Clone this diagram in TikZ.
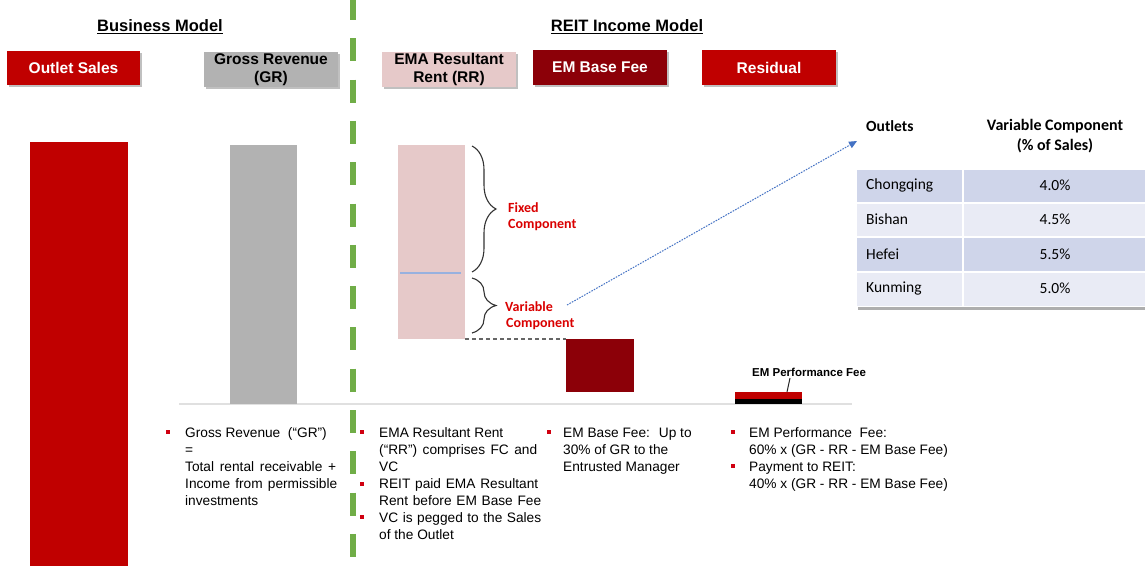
\documentclass[tikz,border=0pt]{standalone}
\usepackage{fontspec}
\setmainfont{Liberation Sans}
\newfontfamily\calfont{Carlito}
\usetikzlibrary{shadows,decorations.pathreplacing,arrows.meta}
\definecolor{osred}{HTML}{C00000}
\definecolor{grgrey}{HTML}{B2B2B2}
\definecolor{rrpink}{HTML}{E6C9C9}
\definecolor{emdark}{HTML}{8C0008}
\definecolor{vgreen}{HTML}{70AD47}
\definecolor{rowA}{HTML}{CFD5EA}
\definecolor{rowB}{HTML}{E9EBF5}
\definecolor{arrblue}{HTML}{4472C4}
\definecolor{lblred}{HTML}{DA0000}
\definecolor{bulred}{HTML}{D00010}
\tikzset{
  hdr/.style={minimum width=134pt, minimum height=35pt, inner sep=0pt, outer sep=0pt,
    font=\fontsize{15.5}{18}\selectfont\bfseries, align=center,
    drop shadow={shadow xshift=2pt, shadow yshift=-2pt, opacity=0.35, fill=black!70}},
  bar/.style={inner sep=0pt, outer sep=0pt, anchor=north west},
  title/.style={font=\fontsize{16.5}{19}\selectfont\bfseries, inner sep=0pt},
  body/.style={anchor=base west, inner sep=0pt, font=\fontsize{13.7}{17}\selectfont},
  bul/.style={fill=bulred, minimum size=3.5pt, inner sep=0pt},
  brc/.style={decorate, decoration={brace, amplitude=24pt}, line width=1.1pt, black!80},
  complbl/.style={anchor=base west, inner sep=0pt, text=lblred, font=\calfont\fontsize{14}{16}\selectfont\bfseries},
  tcell/.style={inner sep=0pt, font=\calfont\fontsize{15.5}{19}\selectfont},
}
\begin{document}
\begin{tikzpicture}[x=1pt,y=-1pt]
\useasboundingbox[fill=white] (0,0) rectangle (1145,567);

% titles
\node[title] (bm) at (160,27) {\underline{Business Model}};
\node[title] (rim) at (627,27) {\underline{REIT Income Model}};

% header boxes
\node[hdr, fill=osred, text=white, anchor=north west, minimum width=133pt, minimum height=34pt] (hos) at (7,51) {Outlet Sales};
\node[hdr, fill=grgrey, anchor=north west, minimum width=134pt, minimum height=35pt] (hgr) at (204,52) {Gross Revenue\\[-0.5pt](GR)};
\node[hdr, fill=rrpink, anchor=north west, minimum width=134pt, minimum height=35pt] (hrr) at (382,52) {EMA Resultant\\[-0.5pt]Rent (RR)};
\node[hdr, fill=emdark, text=white, anchor=north west, minimum width=134pt, minimum height=35pt] (hem) at (533,50) {EM Base Fee};
\node[hdr, fill=osred, text=white, anchor=north west, minimum width=134pt, minimum height=35pt] (hres) at (702,50) {Residual};

% baseline
\draw[black!12, line width=1.3pt] (179,404) -- (852,404);

% bars
\node[bar, fill=osred, minimum width=98pt, minimum height=424pt] (osbar) at (30,142) {};
\node[bar, fill=grgrey, minimum width=67pt, minimum height=259pt] (grbar) at (230,145) {};
\node[bar, fill=rrpink, minimum width=67pt, minimum height=194pt] (rrbar) at (398,145) {};
\draw[arrblue!55, line width=1.2pt] (400,273) -- (461,273);
\node[bar, fill=emdark, minimum width=68pt, minimum height=53pt] (embar) at (566,339) {};
\node[bar, fill=osred, minimum width=67pt, minimum height=7pt] (empbar) at (735,392) {};
\node[bar, fill=black, minimum width=67pt, minimum height=5pt] (empblk) at (735,399) {};

% dashed connector from RR bottom to EM base fee top
\draw[black!60, line width=1.5pt, dash pattern=on 4pt off 3pt] (rrbar.south east) -- (embar.north west);

% braces
\draw[brc] (472,146) -- (472,272);
\draw[brc] (472,278) -- (472,333);
\node[complbl] (fx1) at (508,212) {Fixed};
\node[complbl] (fx2) at (508,228) {Component};
\node[complbl] (vc1) at (505,311) {Variable};
\node[complbl] (vc2) at (506,327) {Component};

% EM performance fee label
\node[anchor=west, inner sep=0pt, font=\fontsize{11.5}{13}\selectfont\bfseries] (empl) at (752,372) {EM Performance Fee};
\coordinate (empll) at (790,378);
\coordinate (empbt) at (787,392);
\draw[black!85, line width=1pt] (empll) -- (empbt);

% green divider
\draw[vgreen, line width=6pt, dash pattern=on 23pt off 18.3pt] (353,-3) -- (353,570);

% table
\node[bar, fill=white, minimum width=289pt, minimum height=197pt,
  drop shadow={shadow xshift=1pt, shadow yshift=-2.5pt, opacity=0.45, fill=black!70}] (tbl) at (857,110) {};
\fill[rowA] (857,170) rectangle (962,201.5);
\fill[rowA] (964,170) rectangle (1146,201.5);
\fill[rowB] (857,203.5) rectangle (962,235.5);
\fill[rowB] (964,203.5) rectangle (1146,235.5);
\fill[rowA] (857,237.5) rectangle (962,270.5);
\fill[rowA] (964,237.5) rectangle (1146,270.5);
\fill[rowB] (857,272.5) rectangle (962,306);
\fill[rowB] (964,272.5) rectangle (1146,306);
\node[tcell, anchor=west, font=\calfont\fontsize{15.5}{19}\selectfont\bfseries] (th1) at (866,126) {Outlets};
\node[tcell, align=center, font=\calfont\fontsize{16}{20}\selectfont\bfseries] (th2) at (1055,136) {Variable Component\\(\% of Sales)};
\node[tcell, anchor=west] (r1a) at (866,185) {Chongqing};
\node[tcell] (r1b) at (1055,185) {4.0\%};
\node[tcell, anchor=west] (r2a) at (866,219) {Bishan};
\node[tcell] (r2b) at (1055,219) {4.5\%};
\node[tcell, anchor=west] (r3a) at (866,254) {Hefei};
\node[tcell] (r3b) at (1055,254) {5.5\%};
\node[tcell, anchor=west] (r4a) at (866,288) {Kunming};
\node[tcell] (r4b) at (1055,288) {5.0\%};

% dotted arrow
\coordinate (arrs) at (567,305);
\coordinate (arre) at (857,141);
\draw[arrblue, line width=1pt, dash pattern=on 1.6pt off 1.2pt, -{Triangle[length=8pt,width=7pt]}] (arrs) -- (arre);

% bullets and text
\node[bul] (b1) at (168,432) {};
\node[body] (g1a) at (185,437) {Gross Revenue \ (“GR”)};
\node[body] (g1b) at (185,454) {=};
\node[body] (g1c) at (185,471) {\makebox[151pt][s]{Total rental receivable +}};
\node[body] (g1d) at (185,488) {\makebox[152pt][s]{Income from permissible}};
\node[body] (g1e) at (185,505) {investments};

\node[bul] (b2) at (362,432) {};
\node[bul] (b3) at (362,484) {};
\node[bul] (b4) at (362,517) {};
\node[body] (g2a) at (379,437) {EMA Resultant Rent};
\node[body] (g2b) at (379,454) {\makebox[158pt][s]{(“RR”) comprises FC and}};
\node[body] (g2c) at (379,471) {VC};
\node[body] (g2d) at (379,488) {\makebox[159pt][s]{REIT paid EMA Resultant}};
\node[body] (g2e) at (379,505) {\makebox[162pt][s]{Rent before EM Base Fee}};
\node[body] (g2f) at (379,522) {\makebox[162pt][s]{VC is pegged to the Sales}};
\node[body] (g2g) at (379,539) {of the Outlet};

\node[bul] (b5) at (549,432) {};
\node[body] (g3a) at (563,437) {EM Base Fee: \ Up to};
\node[body] (g3b) at (563,454) {30\% of GR to the};
\node[body] (g3c) at (563,471) {Entrusted Manager};

\node[bul] (b6) at (733,432) {};
\node[bul] (b7) at (733,466) {};
\node[body] (g4a) at (749,437) {EM Performance \ Fee:};
\node[body] (g4b) at (749,454) {60\% x (GR - RR - EM Base Fee)};
\node[body] (g4c) at (749,471) {Payment to REIT:};
\node[body] (g4d) at (749,488) {40\% x (GR - RR - EM Base Fee)};
\end{tikzpicture}
\end{document}
